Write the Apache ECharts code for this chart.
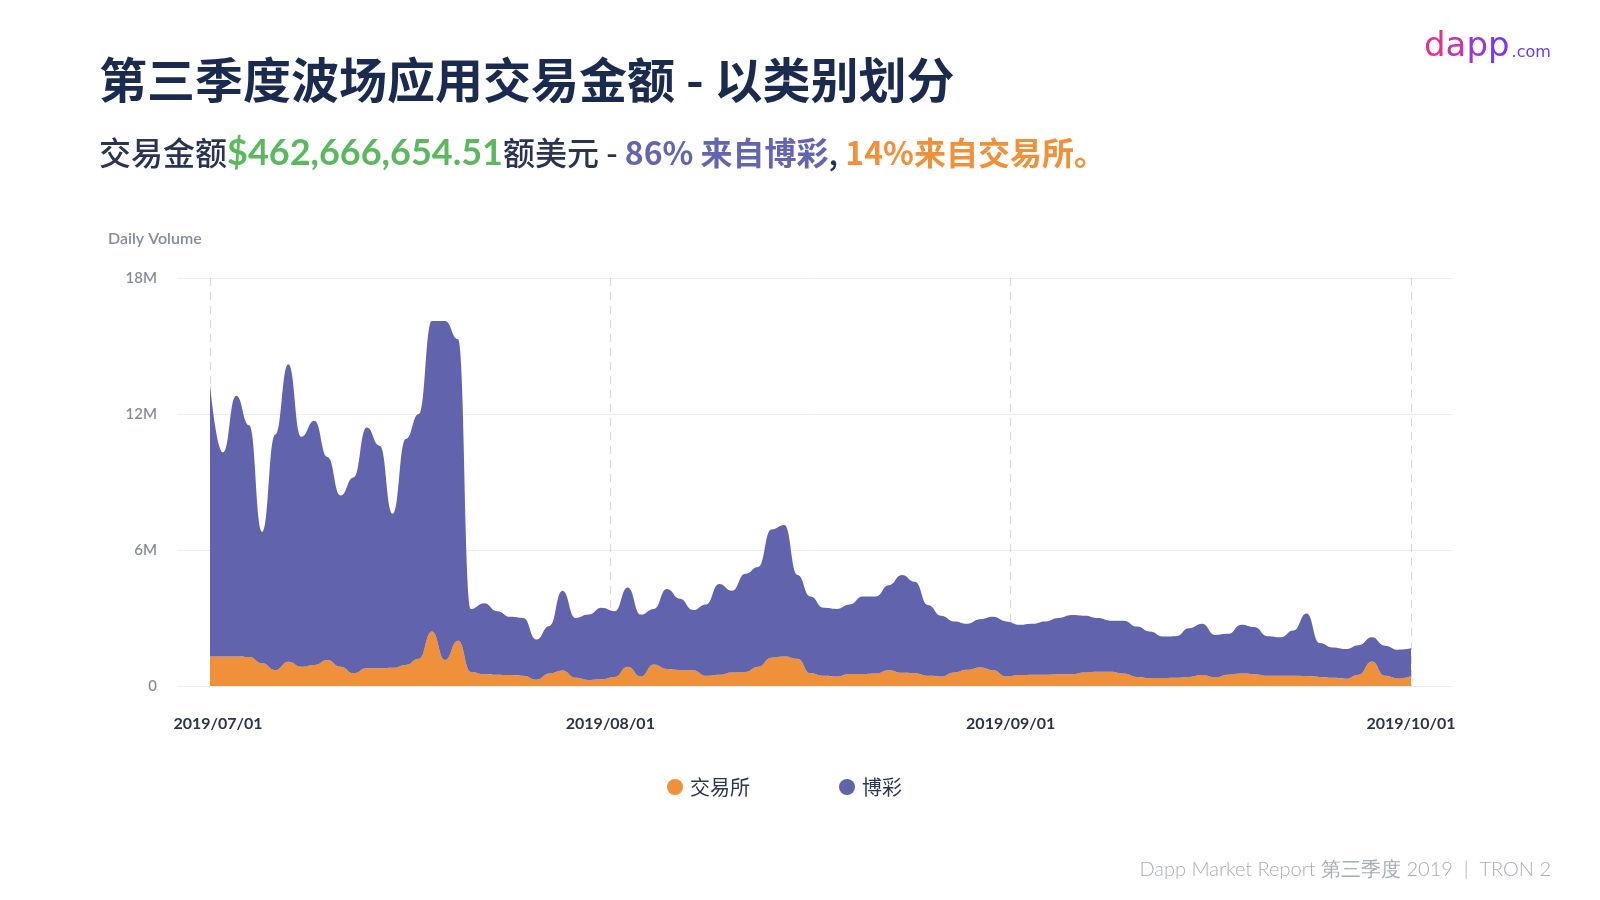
<!DOCTYPE html>
<html>
<head>
<meta charset="utf-8">
<style>html,body{margin:0;padding:0;background:#fff;}#c{width:1600px;height:900px;}</style>
<script src="https://cdn.jsdelivr.net/npm/echarts@6/dist/echarts.min.js"></script>
</head>
<body>
<div id="c"></div>
<script>
// ---- data (values in millions USD), one value per day from 2019/07/01 to 2019/10/01 ----
const startDate = '2019-07-01';
const xTickLabels = ['2019/07/01', '2019/08/01', '2019/09/01', '2019/10/01'];
const yTicks = [0, 6, 12, 18];
const yTickLabels = ['0', '6M', '12M', '18M'];
const seriesNames = ['交易所', '博彩'];
const exchange = [
  1.3, 1.3, 1.3, 1.28, 1.0, 0.7, 1.07, 0.85, 0.93, 1.15,
  0.85, 0.56, 0.78, 0.78, 0.8, 0.93, 1.2, 2.4, 1.15, 2.0,
  0.62, 0.52, 0.5, 0.48, 0.45, 0.28, 0.55, 0.68, 0.36, 0.27,
  0.3, 0.4, 0.85, 0.42, 0.95, 0.75, 0.7, 0.7, 0.45, 0.5,
  0.6, 0.62, 0.85, 1.25, 1.3, 1.2, 0.56, 0.45, 0.42, 0.53,
  0.53, 0.55, 0.7, 0.58, 0.56, 0.45, 0.42, 0.6, 0.72, 0.82,
  0.7, 0.42, 0.48, 0.5, 0.5, 0.52, 0.52, 0.6, 0.63, 0.63,
  0.55, 0.4, 0.35, 0.35, 0.36, 0.4, 0.48, 0.38, 0.5, 0.55,
  0.52, 0.45, 0.45, 0.45, 0.44, 0.4, 0.36, 0.32, 0.5, 1.08,
  0.45, 0.33, 0.43
];
const gambling = [
  12.0, 9.0, 11.5, 10.22, 5.8, 10.4, 13.13, 10.15, 10.77, 8.95,
  7.55, 8.64, 10.62, 9.82, 6.8, 9.97, 10.8, 13.7, 14.95, 13.3,
  2.78, 3.13, 2.8, 2.57, 2.55, 1.77, 2.1, 3.52, 2.64, 2.88,
  3.15, 2.9, 3.5, 2.73, 2.45, 3.53, 3.15, 2.65, 3.15, 4.0,
  3.6, 4.33, 4.4, 5.65, 5.8, 3.7, 3.39, 3.0, 2.98, 3.07,
  3.42, 3.4, 3.75, 4.32, 4.04, 3.12, 2.68, 2.25, 2.03, 2.13,
  2.35, 2.43, 2.22, 2.25, 2.35, 2.48, 2.61, 2.5, 2.37, 2.25,
  2.33, 2.22, 2.05, 1.83, 1.84, 2.15, 2.27, 1.87, 1.8, 2.15,
  2.08, 1.75, 1.7, 2.0, 2.76, 1.5, 1.34, 1.31, 1.3, 1.07,
  1.33, 1.27, 1.23
];

const dayCount = gambling.length;
const lastDay = dayCount - 1;
const tickStep = lastDay / (xTickLabels.length - 1);

// date categories
const dates = [];
(function () {
  const p = startDate.split('-').map(Number);
  for (let i = 0; i < dayCount; i++) {
    const d = new Date(Date.UTC(p[0], p[1] - 1, p[2] + i));
    dates.push(d.getUTCFullYear() + '/' + String(d.getUTCMonth() + 1).padStart(2, '0') + '/' + String(d.getUTCDate()).padStart(2, '0'));
  }
})();

const chart = echarts.init(document.getElementById('c'), null, { renderer: 'canvas' });
const CJK = '"Noto Sans CJK SC", sans-serif';
const LAT = 'Lato, "Noto Sans", sans-serif';

const option = {
  backgroundColor: '#ffffff',
  animation: false,
  grid: [
    { left: 177, right: 148, top: 278, height: 408 },
    { left: 210, right: 189, top: 278, height: 408 }
  ],
  xAxis: [
    { gridIndex: 0, type: 'value', show: false, min: 0, max: 1 },
    {
      gridIndex: 1, type: 'category', data: dates, boundaryGap: false, position: 'bottom',
      axisLine: { show: false }, axisTick: { show: false }, axisLabel: { show: false },
      splitLine: { show: false }
    },
    {
      gridIndex: 1, type: 'value', min: 0, max: lastDay, interval: tickStep, position: 'bottom',
      axisLine: { show: false }, axisTick: { show: false },
      axisLabel: {
        margin: 30,
        color: '#2b3347', fontSize: 16, fontWeight: 'bold', fontFamily: LAT,
        formatter: (v) => {
          const k = Math.round(v / tickStep);
          const t = xTickLabels[k] || '';
          return k === 0 ? '{f|' + t + '}' : t;
        },
        rich: {
          f: { color: '#2b3347', fontSize: 16, fontWeight: 'bold', fontFamily: LAT, padding: [0, 0, 0, 16] }
        }
      },
      splitLine: {
        show: true,
        lineStyle: { color: '#d6d8dd', width: 1, type: [8, 6] }
      }
    }
  ],
  yAxis: [
    {
      gridIndex: 0, type: 'value', min: yTicks[0], max: yTicks[yTicks.length - 1], interval: 6,
      axisLine: { show: false }, axisTick: { show: false },
      axisLabel: {
        margin: 20, color: '#868c9c', fontSize: 15, fontWeight: 600, fontFamily: LAT,
        formatter: (v) => yTickLabels[yTicks.indexOf(v)]
      },
      splitLine: { lineStyle: { color: '#ececee', width: 1 } }
    },
    { gridIndex: 1, type: 'value', min: 0, max: 18, show: false }
  ],
  legend: {
    data: seriesNames,
    left: 662, top: 772,
    icon: 'circle', itemWidth: 16, itemHeight: 16, itemGap: 89,
    textStyle: { fontSize: 20, color: '#2d3550', fontFamily: CJK, padding: [0, 0, 0, 2] }
  },
  series: [
    {
      name: seriesNames[0], type: 'line', stack: 'total', xAxisIndex: 1, yAxisIndex: 1,
      data: exchange, smooth: 0.5, smoothMonotone: 'x', symbol: 'none',
      lineStyle: { width: 0 }, itemStyle: { color: '#ee913a' },
      areaStyle: { color: '#ee913a', opacity: 1 }
    },
    {
      name: seriesNames[1], type: 'line', stack: 'total', xAxisIndex: 1, yAxisIndex: 1,
      data: gambling, smooth: 0.5, smoothMonotone: 'x', symbol: 'none',
      lineStyle: { width: 0 }, itemStyle: { color: '#6163ad' },
      areaStyle: { color: '#6163ad', opacity: 1 }
    }
  ],
  graphic: [
    {
      type: 'text', left: 99, top: 56,
      style: { text: '第三季度波场应用交易金额 - 以类别划分', fill: '#1b2b50', font: 'bold 48px ' + CJK }
    },
    {
      type: 'text', left: 99, top: 135,
      style: {
        text: '交易金额{g|$462,666,654.51}额美元 - {p|86% 来自博彩}, {o|14%来自交易所。}',
        fill: '#2a3452', font: '500 32px ' + CJK,
        rich: {
          g: { fill: '#5cb85f', fontSize: 36, fontWeight: 'bold', fontFamily: LAT },
          p: { fill: '#6465b0', fontSize: 32, fontWeight: 'bold', fontFamily: CJK },
          o: { fill: '#f0903a', fontSize: 32, fontWeight: 'bold', fontFamily: CJK }
        }
      }
    },
    {
      type: 'text', left: 108, top: 231,
      style: { text: 'Daily Volume', fill: '#858b9b', font: '600 16px ' + LAT }
    },
    {
      type: 'text', left: 1424, top: 30,
      style: {
        text: '{a|d}{b|a}{c|p}{d|p}{e|.com}',
        font: '34px "DejaVu Sans", sans-serif',
        rich: {
          a: { fill: '#e0358f', fontSize: 34, fontFamily: '"DejaVu Sans", sans-serif' },
          b: { fill: '#c236ad', fontSize: 34, fontFamily: '"DejaVu Sans", sans-serif' },
          c: { fill: '#9a38cf', fontSize: 34, fontFamily: '"DejaVu Sans", sans-serif' },
          d: { fill: '#7a38e6', fontSize: 34, fontFamily: '"DejaVu Sans", sans-serif' },
          e: { fill: '#6a3ae6', fontSize: 16, fontFamily: '"DejaVu Sans", sans-serif', padding: [12, 0, 0, 2] }
        }
      }
    },
    {
      type: 'text', right: 49, top: 860,
      style: { text: 'Dapp Market Report 第三季度 2019  |  TRON 2', fill: '#a8acb5', font: '300 20px ' + LAT }
    }
  ]
};
chart.setOption(option);
</script>
</body>
</html>
